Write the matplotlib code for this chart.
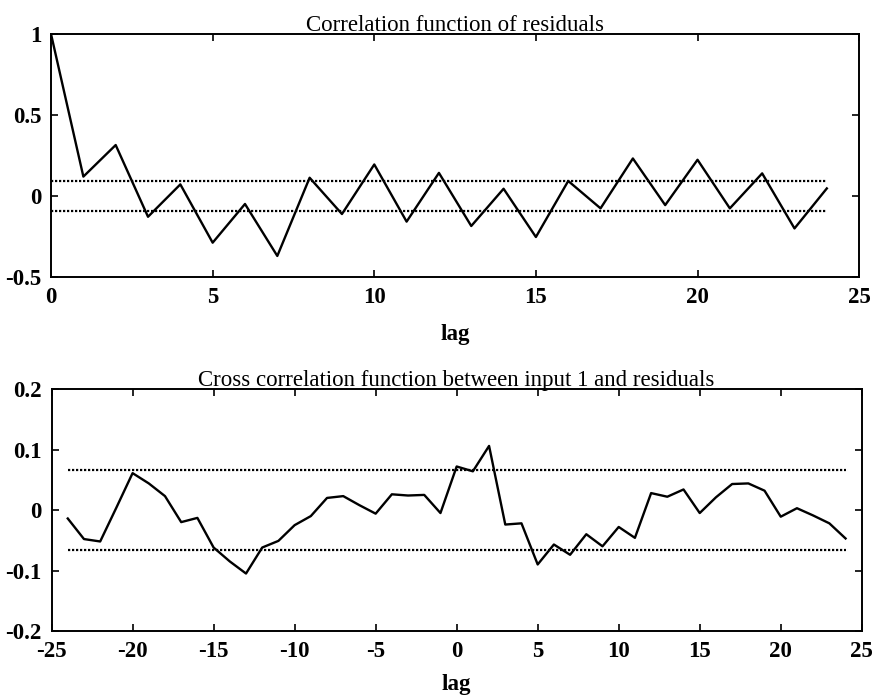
import matplotlib
matplotlib.use("Agg")
import matplotlib.pyplot as plt

# autocorrelation of residuals, lags 0..24
acf_lags = list(range(0, 25))
acf_vals = [1.0, 0.12, 0.315, -0.128, 0.072, -0.288, -0.049, -0.37, 0.113, -0.111,
            0.195, -0.158, 0.143, -0.185, 0.045, -0.253, 0.093, -0.076, 0.232, -0.056,
            0.224, -0.076, 0.14, -0.20, 0.047]
acf_conf = 0.09

# cross correlation input 1 / residuals, lags -24..24
ccf_lags = list(range(-24, 25))
ccf_vals = [-0.014, -0.048, -0.052, 0.004, 0.061, 0.044, 0.023, -0.020, -0.013, -0.062,
            -0.085, -0.105, -0.062, -0.051, -0.025, -0.010, 0.020, 0.023, 0.008, -0.006,
            0.026, 0.024, 0.025, -0.005,
            0.072, 0.064, 0.106, -0.024, -0.022, -0.09, -0.057, -0.074, -0.04, -0.06,
            -0.028, -0.046, 0.028, 0.022, 0.034, -0.005, 0.021, 0.043, 0.044, 0.032,
            -0.011, 0.003, -0.009, -0.022, -0.047]
ccf_conf = 0.066

plt.rcParams["font.family"] = ["Liberation Serif", "DejaVu Serif"]
plt.rcParams["axes.unicode_minus"] = False

fig = plt.figure(figsize=(8.74, 6.96), dpi=100)
ax1 = fig.add_axes([0.0584, 0.602, 0.9246, 0.349])
ax2 = fig.add_axes([0.059, 0.0934, 0.927, 0.3476])

FS = 16.5


def style(ax):
    for s in ax.spines.values():
        s.set_linewidth(1.4)
    ax.tick_params(direction="in", length=5, width=1.2, top=True, right=True,
                   labelsize=FS, pad=7)
    for lab in ax.get_xticklabels() + ax.get_yticklabels():
        lab.set_fontweight("bold")


def conf_lines(ax, lags, c):
    for level in (c, -c):
        ax.plot([lags[0], lags[-1]], [level, level], color="black", lw=1.6, ls=(0, (1, 0.8)))


ax1.plot(acf_lags, acf_vals, color="black", lw=1.7)
conf_lines(ax1, acf_lags, acf_conf)
ax1.set_xlim(0, 25)
ax1.set_ylim(-0.5, 1)
ax1.set_xticks([0, 5, 10, 15, 20, 25])
ax1.set_yticks([-0.5, 0, 0.5, 1])
ax1.set_yticklabels(["-0.5", "0", "0.5", "1"])
ax1.set_title("Correlation function of residuals", fontsize=FS, pad=2)
ax1.set_xlabel("lag", fontsize=FS, fontweight="bold", labelpad=12)
style(ax1)

ax2.plot(ccf_lags, ccf_vals, color="black", lw=1.7)
conf_lines(ax2, ccf_lags, ccf_conf)
ax2.set_xlim(-25, 25)
ax2.set_ylim(-0.2, 0.2)
ax2.set_xticks(list(range(-25, 26, 5)))
ax2.set_yticks([-0.2, -0.1, 0, 0.1, 0.2])
ax2.set_yticklabels(["-0.2", "-0.1", "0", "0.1", "0.2"])
ax2.set_title("Cross correlation function between input 1 and residuals", fontsize=FS, pad=2)
ax2.set_xlabel("lag", fontsize=FS, fontweight="bold", labelpad=9)
style(ax2)

fig.savefig("out.png", dpi=100)
